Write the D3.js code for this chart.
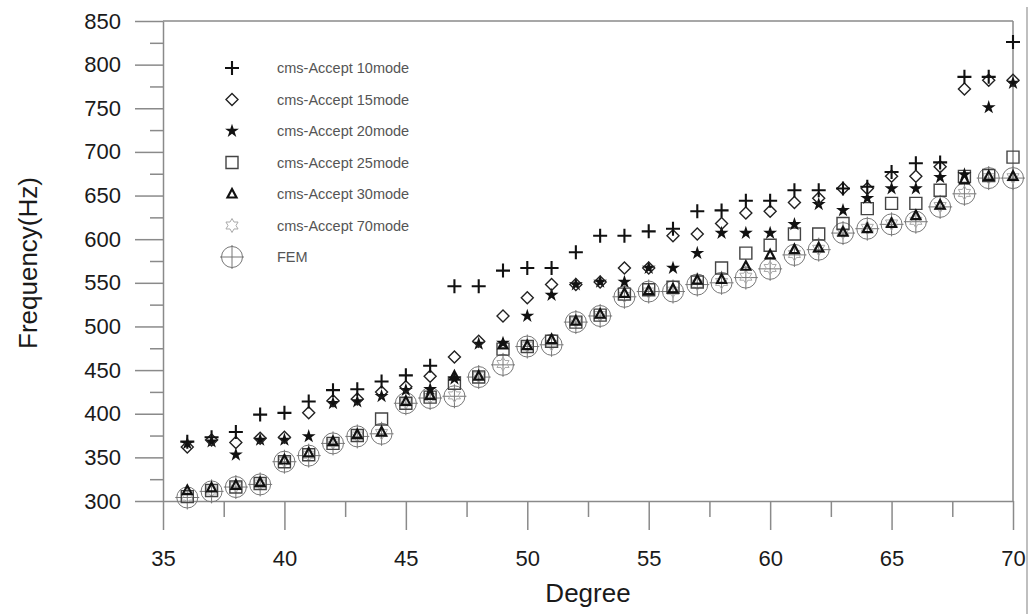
<!DOCTYPE html>
<html>
<head>
<meta charset="utf-8">
<script src="https://cdn.jsdelivr.net/npm/d3@7"></script>
<style>
  body { margin: 0; background: #fff; }
</style>
</head>
<body>
<div class="center"></div>
<script>
// x categories (Degree)
const degrees = [36, 37, 38, 39, 40, 41, 42, 43, 44, 45, 46, 47, 48, 49, 50, 51, 52, 53,
                 54, 55, 56, 57, 58, 59, 60, 61, 62, 63, 64, 65, 66, 67, 68, 69, 70];

// Frequency (Hz) per series
const mode10 = [368, 373, 379, 399, 401, 414, 427, 428, 437, 444, 455, 546, 546, 564, 567, 567, 585, 604,
                604, 609, 612, 632, 633, 644, 644, 656, 656, 658, 660, 677, 687, 688, 786, 786, 826];
const mode15 = [362, 370, 367, 372, 373, 401, 415, 417, 425, 431, 443, 465, 483, 512, 533, 548, 548, 551,
                567, 567, 604, 606, 618, 630, 632, 642, 647, 658, 658, 672, 672, 683, 772, 782, 782];
const mode20 = [366, 368, 353, 370, 370, 374, 412, 414, 420, 427, 428, 440, 480, 481, 512, 536, 548, 551,
                551, 567, 567, 584, 607, 607, 607, 617, 640, 633, 647, 658, 658, 671, 674, 751, 779];
const mode25 = [305, 312, 316, 320, 345, 353, 366, 375, 394, 412, 419, 435, 442, 474, 477, 483, 505, 513,
                537, 542, 545, 551, 567, 584, 593, 606, 606, 618, 635, 641, 641, 656, 672, 673, 694];
const mode30 = [312, 315, 318, 321, 347, 355, 368, 376, 379, 414, 421, 443, 443, 479, 478, 485, 506, 514,
                538, 541, 543, 553, 554, 569, 582, 588, 590, 608, 612, 618, 627, 639, 668, 672, 672];
const mode70 = [305, 312, 317, 320, 346, 353, 367, 375, 378, 413, 419, 421, 443, 457, 478, 480, 506, 513,
                535, 540, 541, 549, 551, 557, 567, 583, 589, 608, 613, 618, 621, 638, 653, 671, 671];
const fem    = [304, 311, 316, 319, 345, 352, 366, 374, 377, 412, 418, 420, 442, 456, 477, 479, 505, 512,
                534, 540, 540, 548, 550, 556, 566, 582, 588, 607, 612, 617, 620, 637, 652, 670, 670];

const seriesNames = ["cms-Accept 10mode", "cms-Accept 15mode", "cms-Accept 20mode",
                     "cms-Accept 25mode", "cms-Accept 30mode", "cms-Accept 70mode", "FEM"];
const seriesKeys = ["plus", "diamond", "star", "square", "triangle", "hexagram", "fem"];

const xTicks = [35, 40, 45, 50, 55, 60, 65, 70];
const xMinor = [37.5, 42.5, 47.5, 52.5, 57.5, 62.5, 67.5];
const yTicks = [300, 350, 400, 450, 500, 550, 600, 650, 700, 750, 800, 850];
const yMinor = [325, 375, 425, 475, 525, 575, 625, 675, 725, 775, 825];

const margin = {top: 21, right: 21, bottom: 113, left: 163};
const width = 1034 - margin.left - margin.right;
const height = 614 - margin.top - margin.bottom;

const xScale = d3.scaleLinear().domain([35, 70]).range([0, width]);
const yScale = d3.scaleLinear().domain([300, 850]).range([height, 0]);

const svg = d3.select(".center").append("svg")
  .attr("width", 1034)
  .attr("height", 614);

// faint outer border line at the right of the scan
svg.append("line")
  .attr("x1", 1027).attr("x2", 1027).attr("y1", 7).attr("y2", 614)
  .attr("stroke", "#aaa").attr("stroke-width", 1.5);

const g = svg.append("g")
  .attr("transform", `translate(${margin.left},${margin.top})`);

const axisColor = "#8a8a8a";

// frame: top and right lines
g.append("line").attr("x1", 0).attr("x2", width).attr("y1", 0).attr("y2", 0)
  .attr("stroke", axisColor).attr("stroke-width", 1.5);
g.append("line").attr("x1", width).attr("x2", width).attr("y1", 0).attr("y2", height)
  .attr("stroke", axisColor).attr("stroke-width", 1.5);

// minor ticks
g.append("g")
  .call(d3.axisLeft(yScale).tickValues(yMinor).tickSize(13).tickFormat(""))
  .call(a => a.select(".domain").remove())
  .selectAll("line").attr("stroke", axisColor).attr("stroke-width", 1.5);
g.append("g")
  .attr("transform", `translate(0,${height})`)
  .call(d3.axisBottom(xScale).tickValues(xMinor).tickSize(16).tickFormat(""))
  .call(a => a.select(".domain").remove())
  .selectAll("line").attr("stroke", axisColor).attr("stroke-width", 1.5);

// y axis
const yAxis = g.append("g")
  .call(d3.axisLeft(yScale).tickValues(yTicks).tickSize(28).tickSizeOuter(0).tickPadding(14));
yAxis.select(".domain").attr("stroke", axisColor).attr("stroke-width", 1.5);
yAxis.selectAll("line").attr("stroke", axisColor).attr("stroke-width", 1.5);
yAxis.selectAll("text")
  .attr("font-family", "Liberation Sans, Arial, sans-serif")
  .attr("font-size", "22px")
  .attr("fill", "#1a1a1a");

// x axis
const xAxis = g.append("g")
  .attr("transform", `translate(0,${height})`)
  .call(d3.axisBottom(xScale).tickValues(xTicks).tickSize(29).tickSizeOuter(0).tickPadding(20));
xAxis.select(".domain").attr("stroke", axisColor).attr("stroke-width", 1.5);
xAxis.selectAll("line").attr("stroke", axisColor).attr("stroke-width", 1.5);
xAxis.selectAll("text")
  .attr("font-family", "Liberation Sans, Arial, sans-serif")
  .attr("font-size", "22px")
  .attr("fill", "#1a1a1a");

// axis titles
svg.append("text")
  .attr("transform", "translate(37,263) rotate(-90)")
  .attr("text-anchor", "middle")
  .attr("font-family", "Liberation Sans, Arial, sans-serif")
  .attr("font-size", "26px")
  .attr("fill", "#1a1a1a")
  .text("Frequency(Hz)");

svg.append("text")
  .attr("x", 588).attr("y", 602)
  .attr("text-anchor", "middle")
  .attr("font-family", "Liberation Sans, Arial, sans-serif")
  .attr("font-size", "26px")
  .attr("fill", "#1a1a1a")
  .text("Degree");

// marker drawing
function drawMarker(sel, key) {
  if (key === "plus") {
    sel.append("path").attr("d", "M-7,0H7M0,-7V7")
      .attr("stroke", "#111").attr("stroke-width", 2.1).attr("fill", "none");
  } else if (key === "diamond") {
    sel.append("path").attr("d", "M0,-6L6,0L0,6L-6,0Z")
      .attr("stroke", "#222").attr("stroke-width", 1.4).attr("fill", "none");
  } else if (key === "star") {
    sel.append("path").attr("d", d3.symbol(d3.symbolStar, 60)())
      .attr("fill", "#111");
  } else if (key === "square") {
    sel.append("path").attr("d", "M-6,-6H6V6H-6Z")
      .attr("stroke", "#444").attr("stroke-width", 1.4).attr("fill", "none");
  } else if (key === "triangle") {
    sel.append("path").attr("d", "M0,-5L4.5,3.5L-4.5,3.5Z")
      .attr("stroke", "#111").attr("stroke-width", 2.2).attr("fill", "none");
  } else if (key === "hexagram") {
    const pts = d3.range(12).map(i => {
      const a = i * Math.PI / 6 - Math.PI / 2;
      const r = i % 2 ? 4 : 7;
      return [r * Math.cos(a), r * Math.sin(a)];
    });
    sel.append("path").attr("d", "M" + pts.join("L") + "Z")
      .attr("stroke", "#aaa").attr("stroke-width", 1).attr("fill", "none");
  } else if (key === "fem") {
    sel.append("circle").attr("r", 10.5)
      .attr("stroke", "#777").attr("stroke-width", 1).attr("fill", "none");
    sel.append("path").attr("d", "M-12,0H12M0,-12V12")
      .attr("stroke", "#777").attr("stroke-width", 1).attr("fill", "none");
  }
}

const seriesData = {
  plus: mode10, diamond: mode15, star: mode20, square: mode25,
  triangle: mode30, hexagram: mode70, fem: fem
};

// draw FEM first so the others sit on top
["fem", "hexagram", "square", "triangle", "star", "diamond", "plus"].forEach(key => {
  const vals = seriesData[key];
  g.selectAll(".pt-" + key)
    .data(degrees.map((d, i) => ({deg: d, f: vals[i]})))
    .enter().append("g")
    .attr("class", "pt-" + key)
    .attr("transform", d => `translate(${xScale(d.deg)},${yScale(d.f)})`)
    .each(function() { drawMarker(d3.select(this), key); });
});

// legend
const legend = svg.selectAll(".legend")
  .data(seriesNames)
  .enter().append("g")
  .attr("class", "legend")
  .attr("transform", (d, i) => `translate(232,${68 + i * 31.5})`);

legend.each(function(d, i) { drawMarker(d3.select(this), seriesKeys[i]); });

legend.append("text")
  .attr("x", 45)
  .attr("y", 5)
  .attr("font-family", "Liberation Sans, Arial, sans-serif")
  .attr("font-size", "14.5px")
  .attr("fill", "#555")
  .text(d => d);
</script>
</body>
</html>
